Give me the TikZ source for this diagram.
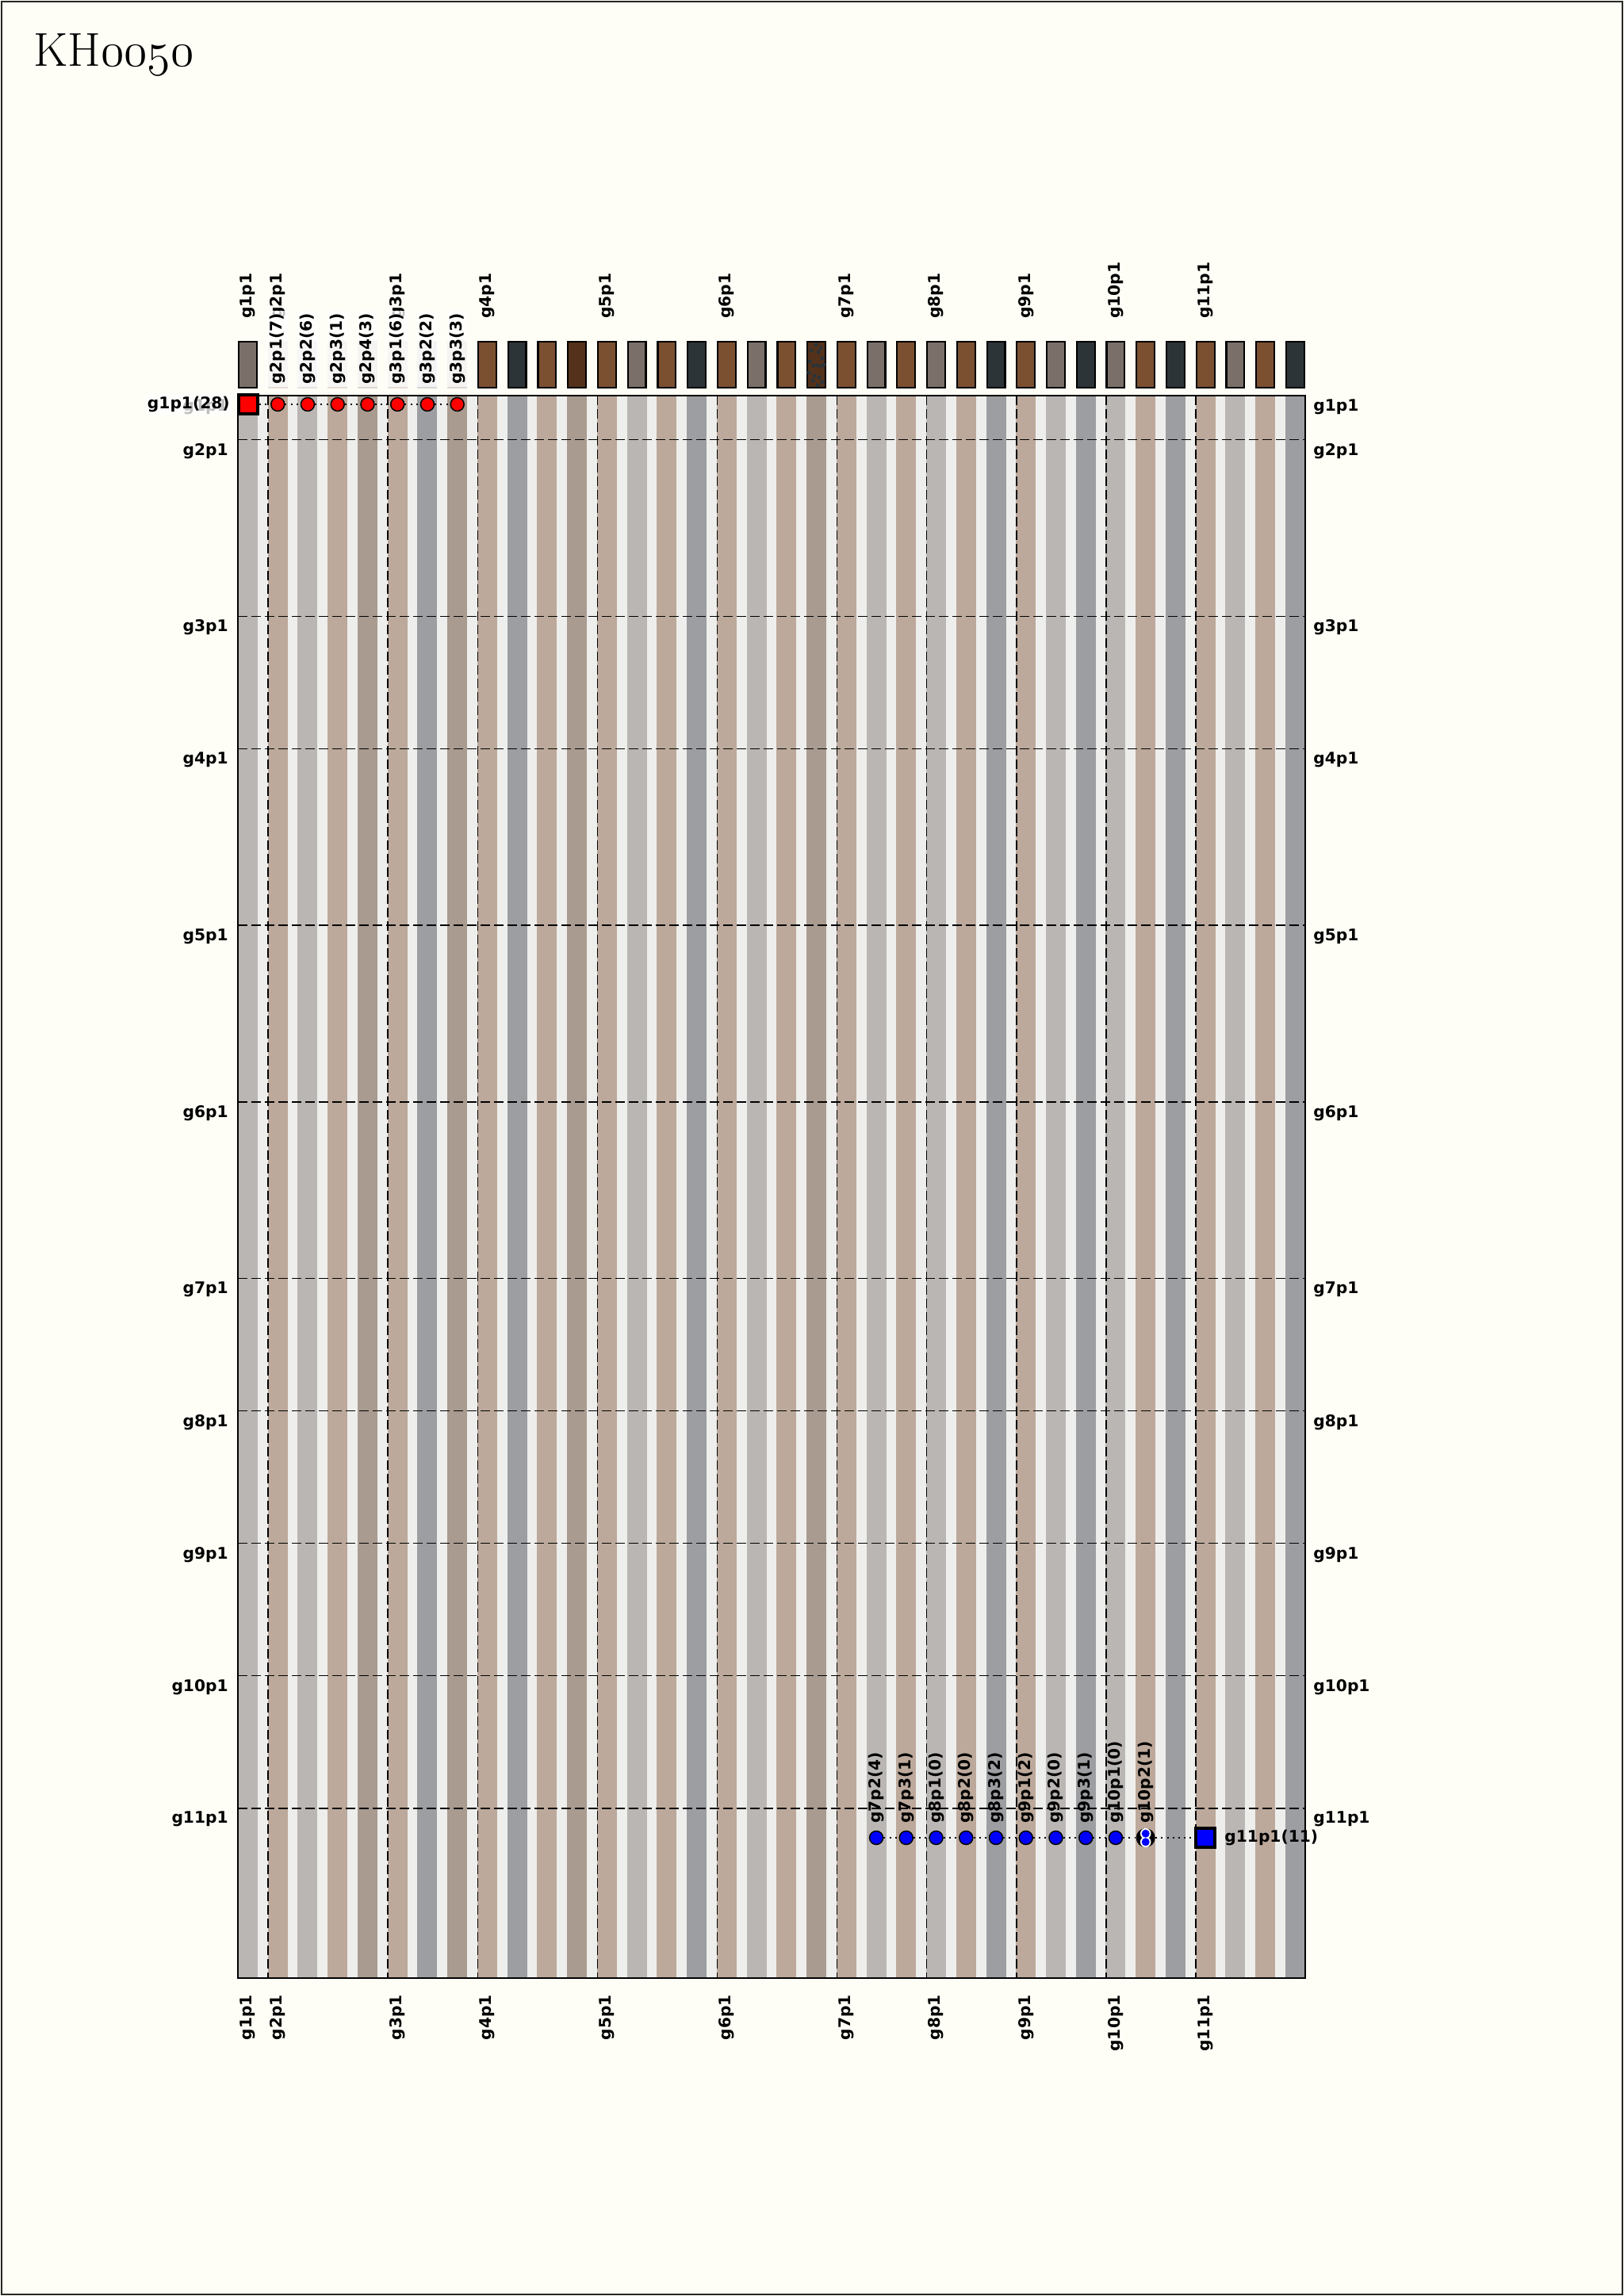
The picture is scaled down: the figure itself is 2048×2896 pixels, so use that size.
\RequirePackage{fix-cm}
\documentclass[tikz,border=0pt]{standalone}
\usepackage{fontspec}
\newfontfamily\lblfont{DejaVu Sans}
\definecolor{pagebg}{HTML}{FEFEF6}
\definecolor{gridbg}{HTML}{EEEEEC}
\definecolor{stB}{HTML}{BCA99B}
\definecolor{stG}{HTML}{BAB6B4}
\definecolor{stS}{HTML}{9C9EA1}
\definecolor{stD}{HTML}{A99B90}
\definecolor{barB}{HTML}{7B5030}
\definecolor{barG}{HTML}{7A7069}
\definecolor{barS}{HTML}{2C3438}
\definecolor{barD}{HTML}{54311A}
\begin{document}
\begin{tikzpicture}[x=0.5pt,y=-0.5pt,
  lbl/.style={font=\lblfont\bfseries\fontsize{10.1}{11}\selectfont, inner sep=2pt, text=black},
  vlbl/.style={lbl, rotate=90, inner sep=1.5pt},
  barbox/.style={rectangle, draw=black, line width=1.1pt, minimum width=11.4pt, minimum height=28.9pt, inner sep=0pt},
  palebar/.style={rectangle, minimum width=12.5pt, minimum height=30pt, inner sep=0pt},
  dashline/.style={line width=0.75pt, dash pattern=on 6pt off 2.5pt},
  dotline/.style={line width=1pt, dash pattern=on 1pt off 2.6pt},
  sqmark/.style={rectangle, draw=black, line width=2pt, minimum size=12pt, inner sep=0pt},
  dotmark/.style={circle, draw=black, line width=0.75pt, minimum size=8.5pt, inner sep=0pt},
  hazy/.style={fill=white, fill opacity=0.75, text opacity=1}
]
\fill[pagebg] (0,0) rectangle (2048,2896);
\useasboundingbox (0,0) rectangle (2048,2896);
\draw[line width=1.4pt, black!85] (2,2) rectangle (2046,2894);
\node[anchor=base west, inner sep=0pt] (title) at (42,83)
  {\fontsize{30}{32}\selectfont KH{\usefont{OML}{cmm}{m}{it}0050}};

% grid background and stripes
\fill[gridbg] (300,499) rectangle (1646,2495);
\foreach \i/\c in {0/G,1/B,2/G,3/B,4/D,5/B,6/S,7/D,8/B,9/S,10/B,11/D,12/B,13/G,14/B,15/S,16/B,17/G,18/B,19/D,20/B,21/G,22/B,23/G,24/B,25/S,26/B,27/G,28/S,29/G,30/B,31/S,32/B,33/G,34/B,35/S}{
  \pgfmathsetmacro\xl{300+37.74*\i}
  \fill[st\c] (\xl,499) rectangle ({\xl+25},2495);
}
% group separators
\foreach \u in {1,5,8,12,16,20,23,26,29,32}{
  \pgfmathsetmacro\yy{499+55.68*\u}
  \draw[dashline] (300,\yy) -- (1646,\yy);
}
\foreach \c in {1,5,8,12,16,20,23,26,29,32}{
  \pgfmathsetmacro\xx{300.5+37.74*\c}
  \draw[dashline] (\xx,499) -- (\xx,2495);
}
\draw[line width=1.4pt] (300,499) rectangle (1646,2495);

% group labels (top and bottom) and row labels
\foreach \g/\c/\u in {1/0/0,2/1/1,3/5/5,4/8/8,5/12/12,6/16/16,7/20/20,8/23/23,9/26/26,10/29/29,11/32/32}{
  \pgfmathsetmacro\xc{312.5+37.74*\c}
  \pgfmathsetmacro\yy{499+55.68*\u}
  \node[vlbl, anchor=west] (tg\g) at (\xc,405) {g\g p1};
  \node[vlbl, anchor=east] (bg\g) at (\xc,2513) {g\g p1};
  \node[lbl, anchor=north east] (rl\g) at (292,\yy) {g\g p1};
  \node[lbl, anchor=north west] (rr\g) at (1652,\yy) {g\g p1};
}

% colour bars
\foreach \i/\c in {0/G,8/B,9/S,10/B,11/D,12/B,13/G,14/B,15/S,16/B,17/G,18/B,19/D,20/B,21/G,22/B,23/G,24/B,25/S,26/B,27/G,28/S,29/G,30/B,31/S,32/B,33/G,34/B,35/S}{
  \pgfmathsetmacro\xc{312.5+37.74*\i}
  \node[barbox, fill=bar\c] (bar\i) at (\xc,460) {};
}
\foreach \dx/\dy in {12/5,18/9,15/14,20/22,4/26,22/30,9/31,14/31,19/32,3/40,10/44,16/46,8/50,20/52,14/56,6/12}{
  \fill[barS] ({1017.1+\dx},{430+\dy}) circle (1.3pt);
}
\foreach \i/\c in {1/B,2/G,3/B,4/D,5/B,6/S,7/D}{
  \pgfmathsetmacro\xc{312.5+37.74*\i}
  \node[palebar, fill=bar\c!20!white] (bar\i) at (\xc,460) {};
}
\foreach \i/\t in {1/g2p1(7),2/g2p2(6),3/g2p3(1),4/g2p4(3),5/g3p1(6),6/g3p2(2),7/g3p3(3)}{
  \pgfmathsetmacro\xc{312.5+37.74*\i}
  \node[vlbl, anchor=west, hazy] (tl\i) at (\xc,488) {\t};
}

% red markers
\node[sqmark, fill=red] (m0) at (312.5,510) {};
\foreach \i in {1,...,7}{
  \pgfmathsetmacro\xc{312.5+37.74*\i}
  \node[dotmark, fill=red] (m\i) at (\xc,510) {};
}
\foreach \i [count=\j from 1] in {0,...,6}{
  \draw[dotline] (m\i) -- (m\j);
}
\node[lbl, anchor=east, hazy, inner sep=1.5pt] (lm0) at (293,510) {g1p1(28)};

% blue markers
\foreach \i/\t in {21/g7p2(4),22/g7p3(1),23/g8p1(0),24/g8p2(0),25/g8p3(2),26/g9p1(2),27/g9p2(0),28/g9p3(1),29/g10p1(0),30/g10p2(1)}{
  \pgfmathsetmacro\xc{312.5+37.74*\i}
  \node[vlbl, anchor=west] (bl\i) at (\xc,2303) {\t};
}
\foreach \i in {21,...,29}{
  \pgfmathsetmacro\xc{312.5+37.74*\i}
  \node[dotmark, fill=blue] (b\i) at (\xc,2318) {};
}
\node[circle, fill=black, minimum size=12pt, inner sep=0pt] (b30) at ({312.5+37.74*30},2318) {};
\fill[white] ([yshift=2.65pt]b30.center) circle (3.4pt);
\fill[white] ([yshift=-2.65pt]b30.center) circle (3.4pt);
\fill[blue] ([yshift=2.65pt]b30.center) circle (2.5pt);
\fill[blue] ([yshift=-2.65pt]b30.center) circle (2.5pt);
\node[sqmark, fill=blue] (bsq) at ({312.5+37.74*32},2318) {};
\foreach \i [count=\j from 22] in {21,...,29}{
  \draw[dotline] (b\i) -- (b\j);
}
\draw[dotline] (b30) -- (bsq);
\node[lbl, anchor=west, inner sep=1.5pt] (lbsq) at (1541,2318) {g11p1(11)};
\end{tikzpicture}
\end{document}
